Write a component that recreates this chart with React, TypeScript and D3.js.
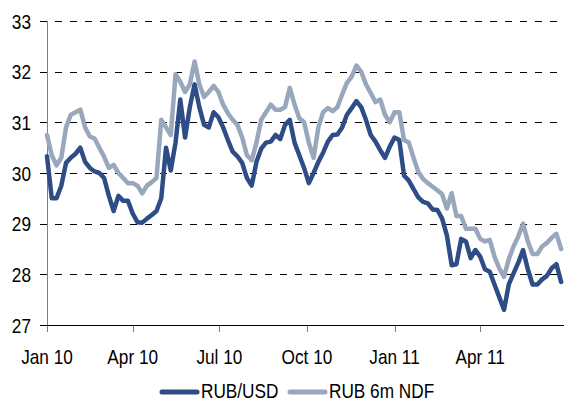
import React from "react";
import * as d3 from "d3";

// Data: sampled every 5 calendar days starting 1 Jan 2010
const startDate = new Date(2010, 0, 1);
const stepDays = 5;

const rubUsd = [
  30.33, 29.5, 29.5, 29.75, 30.2, 30.3, 30.38, 30.5, 30.22, 30.1,
  30.03, 30.0, 29.9, 29.55, 29.25, 29.55, 29.45, 29.45, 29.2, 29.03,
  29.02, 29.1, 29.17, 29.25, 29.5, 30.5, 30.05, 30.6, 31.45, 30.7,
  31.3, 31.75, 31.3, 30.95, 30.9, 31.2, 31.1, 30.9, 30.65, 30.42,
  30.33, 30.2, 29.9, 29.75, 30.22, 30.48, 30.6, 30.62, 30.75, 30.67,
  30.95, 31.05, 30.6, 30.35, 30.1, 29.8, 30.0, 30.22, 30.4, 30.62,
  30.75, 30.76, 30.9, 31.15, 31.28, 31.42, 31.3, 31.05, 30.75, 30.62,
  30.45, 30.3, 30.52, 30.7, 30.65, 29.95, 29.85, 29.68, 29.52, 29.43,
  29.4, 29.28, 29.27, 29.1, 28.77, 28.18, 28.2, 28.7, 28.65, 28.32,
  28.48, 28.35, 28.1, 28.05, 27.8, 27.55, 27.3, 27.8, 28.02, 28.23,
  28.48, 28.1, 27.8, 27.8, 27.9, 27.97, 28.12, 28.2, 27.85,
];

const rub6mNdf = [
  30.75, 30.35, 30.15, 30.3, 30.9, 31.15, 31.2, 31.25, 30.9, 30.72,
  30.68, 30.5, 30.32, 30.1, 30.16, 30.0, 29.9, 29.8, 29.8, 29.75,
  29.6, 29.75, 29.82, 29.9, 31.05, 30.9, 30.75, 31.95, 31.8, 31.6,
  31.75, 32.2, 31.75, 31.5, 31.6, 31.72, 31.6, 31.35, 31.18, 31.05,
  30.95, 30.7, 30.35, 30.25, 30.6, 31.05, 31.2, 31.35, 31.25, 31.25,
  31.3, 31.68, 31.35, 31.08, 31.0, 30.6, 30.3, 30.9, 31.2, 31.28,
  31.22, 31.3, 31.55, 31.78, 31.9, 32.12, 32.0, 31.75, 31.58, 31.4,
  31.45, 31.15, 31.0, 31.2, 31.2, 30.65, 30.6, 30.3, 30.02, 29.88,
  29.8, 29.73, 29.66, 29.58, 29.3, 29.6, 29.15, 29.15, 28.9, 28.9,
  28.9, 28.7, 28.65, 28.68, 28.35, 28.12, 27.95, 28.3, 28.55, 28.75,
  29.0, 28.65, 28.4, 28.4, 28.55, 28.62, 28.72, 28.8, 28.5,
];

const yTicks = [27, 28, 29, 30, 31, 32, 33];
const xTickDates = [
  new Date(2010, 0, 1),
  new Date(2010, 3, 1),
  new Date(2010, 6, 1),
  new Date(2010, 9, 1),
  new Date(2011, 0, 1),
  new Date(2011, 3, 1),
];
const seriesNames = ["RUB/USD", "RUB 6m NDF"];

const W = 564;
const H = 402;
const DARK = "#2E4C86";
const LIGHT = "#99A7BD";
const FONT = "'Liberation Sans', Arial, sans-serif";
const FS = 21;
const SX = 0.82;

function Label({ x, y, anchor, children }: { x: number; y: number; anchor: string; children: React.ReactNode }) {
  return (
    <text
      transform={`translate(${x},${y}) scale(${SX},1)`}
      textAnchor={anchor as any}
      fontFamily={FONT}
      fontSize={FS}
      fill="#000"
    >
      {children}
    </text>
  );
}

export default function App() {
  const x = d3
    .scaleTime()
    .domain([startDate, new Date(2011, 5, 28)])
    .range([47, 564]);
  const y = d3.scaleLinear().domain([27, 33]).range([325, 21]);

  const toPts = (vals: number[]) =>
    vals.map((v, i) => ({ d: d3.timeDay.offset(startDate, i * stepDays), v }));

  const line = d3
    .line<{ d: Date; v: number }>()
    .x((p) => x(p.d))
    .y((p) => y(p.v));

  const fmt = d3.timeFormat("%b %y");

  return (
    <svg
      width={W}
      height={H}
      style={{ position: "absolute", left: 0, top: 0, background: "#fff" }}
    >
      {/* gridlines */}
      {yTicks.map((t) =>
        t === 27 ? null : (
          <line
            key={t}
            x1={40}
            x2={564}
            y1={Math.round(y(t)) + 0.5}
            y2={Math.round(y(t)) + 0.5}
            stroke="#000"
            strokeWidth={1}
            strokeDasharray="7,8"
          />
        )
      )}
      {/* y axis */}
      <line x1={47.5} x2={47.5} y1={21} y2={325} stroke="#808080" strokeWidth={1} />
      <line x1={40} x2={47} y1={325.5} y2={325.5} stroke="#000" strokeWidth={1} />
      {yTicks.map((t) => (
        <Label key={t} x={31} y={y(t) + 7.5} anchor="end">
          {t}
        </Label>
      ))}

      {/* series */}
      <path
        d={line(toPts(rubUsd)) || ""}
        fill="none"
        stroke={DARK}
        strokeWidth={4.5}
        strokeLinejoin="round"
        strokeLinecap="round"
      />
      <path
        d={line(toPts(rub6mNdf)) || ""}
        fill="none"
        stroke={LIGHT}
        strokeWidth={4.5}
        strokeLinejoin="round"
        strokeLinecap="round"
      />

      {/* x axis */}
      <line x1={40} x2={564} y1={325.5} y2={325.5} stroke="#000" strokeWidth={1} />
      {xTickDates.map((d, i) => (
        <g key={i}>
          <line
            x1={Math.round(x(d)) + 0.5}
            x2={Math.round(x(d)) + 0.5}
            y1={326}
            y2={332}
            stroke="#808080"
            strokeWidth={1}
          />
          <Label x={x(d)} y={364} anchor="middle">
            {fmt(d)}
          </Label>
        </g>
      ))}

      {/* legend */}
      <line x1={162} x2={197} y1={392} y2={392} stroke={DARK} strokeWidth={5} strokeLinecap="round" />
      <Label x={201} y={398} anchor="start">
        {seriesNames[0]}
      </Label>
      <line x1={290} x2={325} y1={392} y2={392} stroke={LIGHT} strokeWidth={5} strokeLinecap="round" />
      <Label x={329} y={398} anchor="start">
        {seriesNames[1]}
      </Label>
    </svg>
  );
}
